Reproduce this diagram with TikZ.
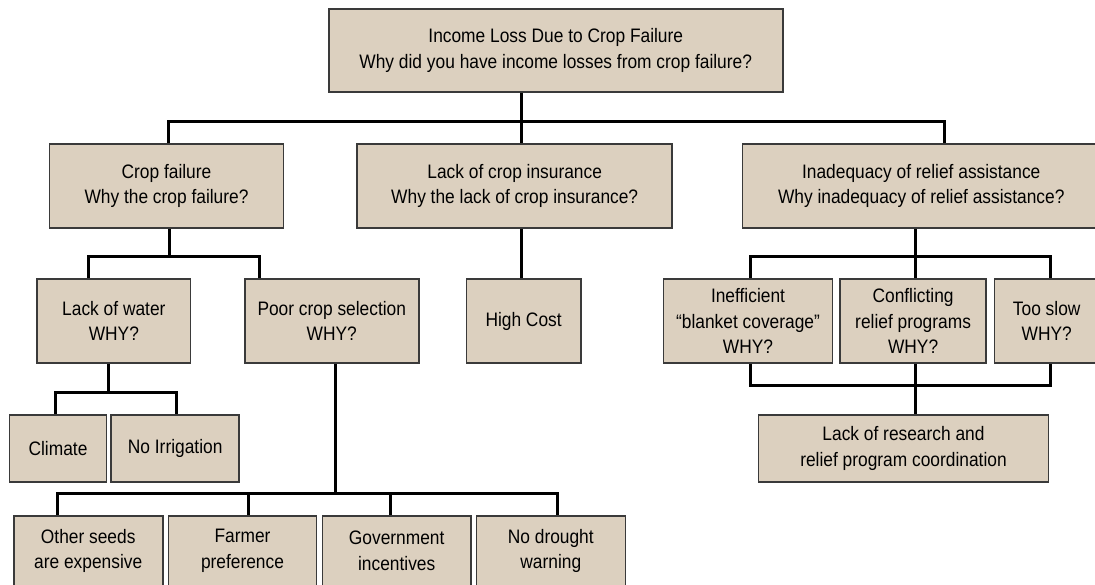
\documentclass[tikz,border=0pt]{standalone}
\usepackage{fontspec}
\setmainfont[FakeStretch=0.89]{Liberation Sans}
\definecolor{boxfill}{HTML}{DCD0BF}
\definecolor{boxline}{HTML}{3A3A3A}
\begin{document}
\begin{tikzpicture}[x=1pt,y=-1pt,
  box/.style={draw=boxline, line width=1.6pt, fill=boxfill, align=center,
    inner sep=0pt, font=\fontsize{19.5}{25.5}\selectfont},
  conn/.style={draw=black, line width=3pt, line join=miter}]
\useasboundingbox (0,0) rectangle (1095,584);

% level 0
\node[box, minimum width=454pt, minimum height=83pt] (top) at (555.75,50.5)
  {Income Loss Due to Crop Failure\\Why did you have income losses from crop failure?};

% level 1
\node[box, minimum width=234pt, minimum height=84pt] (crop) at (166.5,186)
  {Crop failure\\Why the crop failure?};
\node[box, minimum width=315pt, minimum height=84pt] (ins) at (514.7,186)
  {Lack of crop insurance\\Why the lack of crop insurance?};
\node[box, minimum width=357.5pt, minimum height=84pt] (inad) at (921.25,186)
  {Inadequacy of relief assistance\\Why inadequacy of relief assistance?};

% level 2
\node[box, minimum width=153.3pt, minimum height=84pt] (water) at (113.85,321)
  {Lack of water\\WHY?};
\node[box, minimum width=174pt, minimum height=84pt] (poor) at (331.8,321)
  {Poor crop selection\\WHY?};
\node[box, minimum width=114.2pt, minimum height=84pt] (high) at (523.6,321)
  {High Cost};
\node[box, minimum width=168.7pt, minimum height=84pt] (ineff) at (748,321)
  {Inefficient\\“blanket coverage”\\WHY?};
\node[box, minimum width=146.2pt, minimum height=84pt] (confl) at (913.1,321)
  {Conflicting\\relief programs\\WHY?};
\node[box, minimum width=104.7pt, minimum height=84pt] (slow) at (1046.7,321)
  {Too slow\\WHY?};

% level 3
\node[box, minimum width=97pt, minimum height=67pt] (climate) at (58,448.5)
  {Climate};
\node[box, minimum width=128pt, minimum height=67pt] (irrig) at (175.2,448.5)
  {No Irrigation};
\node[box, minimum width=289.7pt, minimum height=67pt] (research) at (903.5,448.5)
  {Lack of research and\\relief program coordination};

% level 4
\node[box, minimum width=149pt, minimum height=70pt] (seeds) at (88.2,551)
  {Other seeds\\are expensive};
\node[box, minimum width=148.3pt, minimum height=70pt] (farmer) at (242.5,551)
  {Farmer\\preference};
\node[box, minimum width=148.8pt, minimum height=70pt] (gov) at (396.7,551)
  {Government\\incentives};
\node[box, minimum width=149pt, minimum height=70pt] (drought) at (550.8,551)
  {No drought\\warning};

% bus junctions
\coordinate (bA) at (521.9,121);
\coordinate (bL) at (168.4,121);
\coordinate (bR) at (944.9,121);
\coordinate (c0) at (169.8,256);
\coordinate (cL) at (88.4,256);
\coordinate (cR) at (259.9,256);
\coordinate (d0) at (915.7,256);
\coordinate (dL) at (750.2,256);
\coordinate (dR) at (1050.1,256);
\coordinate (e0) at (915.7,385);
\coordinate (eL) at (750.2,385);
\coordinate (eR) at (1050.1,385);
\coordinate (f0) at (108.4,392);
\coordinate (fL) at (55.4,392);
\coordinate (fR) at (176.1,392);
\coordinate (g0) at (335.3,493);
\coordinate (gL) at (57.9,493);
\coordinate (g1) at (248.3,493);
\coordinate (g2) at (390.4,493);
\coordinate (gR) at (557.3,493);

% top level
\draw[conn] (top.south -| bA) -- (ins.north -| bA);
\draw[conn] (crop.north -| bL) -- (bL) -- (bR) -- (inad.north -| bR);

% crop failure branch
\draw[conn] (crop.south -| c0) -- (c0);
\draw[conn] (water.north -| cL) -- (cL) -- (cR) -- (poor.north -| cR);
\draw[conn] (water.south -| f0) -- (f0);
\draw[conn] (climate.north -| fL) -- (fL) -- (fR) -- (irrig.north -| fR);
\draw[conn] (poor.south -| g0) -- (g0);
\draw[conn] (seeds.north -| gL) -- (gL) -- (gR) -- (drought.north -| gR);
\draw[conn] (farmer.north -| g1) -- (g1);
\draw[conn] (gov.north -| g2) -- (g2);

% insurance branch
\draw[conn] (ins.south -| bA) -- (high.north -| bA);

% relief branch
\draw[conn] (inad.south -| d0) -- (confl.north -| d0);
\draw[conn] (ineff.north -| dL) -- (dL) -- (dR) -- (slow.north -| dR);
\draw[conn] (ineff.south -| eL) -- (eL) -- (eR) -- (slow.south -| eR);
\draw[conn] (confl.south -| e0) -- (research.north -| e0);
\end{tikzpicture}
\end{document}
